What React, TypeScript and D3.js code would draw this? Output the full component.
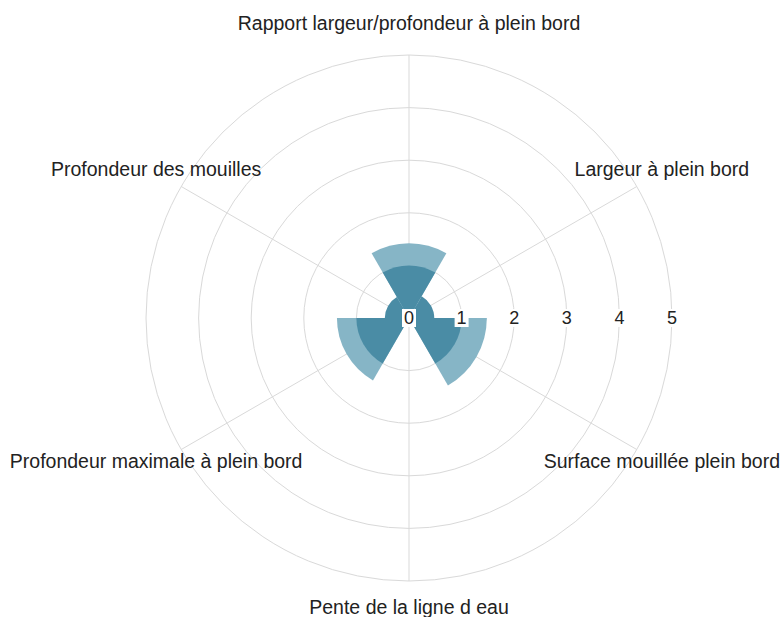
import { useEffect, useRef } from "react";
import * as d3 from "d3";

// axis names, clockwise from the top
const categories = [
    "Rapport largeur/profondeur à plein bord",
    "Largeur à plein bord",
    "Surface mouillée plein bord",
    "Pente de la ligne d eau",
    "Profondeur maximale à plein bord",
    "Profondeur des mouilles",
];

// light (outer) series and dark (inner) series
const outerValues = [1.42, 0.3, 1.48, 0, 1.37, 0.3];
const innerValues = [1.0, 0.48, 1.0, 0, 1.0, 0.46];

const radialTicks = [0, 1, 2, 3, 4, 5];

const W = 782;
const H = 617;

export default function App() {
    const svgRef = useRef<SVGSVGElement>(null);

    useEffect(() => {
        if (!svgRef.current) return;
        const svg = d3.select(svgRef.current);
        svg.selectAll("*").remove();

        const cx = 409;
        const cy = 318;
        const R = 263;
        const font = "'Liberation Sans', Arial, sans-serif";

        const r = d3.scaleLinear().domain([0, 5]).range([0, R]);
        const step = (2 * Math.PI) / categories.length;
        const angle = d3
            .scaleBand<string>()
            .domain(categories)
            .range([-step / 2, 2 * Math.PI - step / 2]);

        const g = svg.append("g").attr("transform", `translate(${cx},${cy})`);

        // grid rings
        g.append("g")
            .selectAll("circle")
            .data(radialTicks.filter((d) => d > 0))
            .enter()
            .append("circle")
            .attr("r", (d) => r(d))
            .attr("fill", "none")
            .attr("stroke", "#d9d9d9")
            .attr("stroke-width", 1);

        // spokes
        g.append("g")
            .selectAll("line")
            .data(categories)
            .enter()
            .append("line")
            .attr("x1", 0)
            .attr("y1", 0)
            .attr("x2", (d) => Math.sin(angle(d)! + step / 2) * R)
            .attr("y2", (d) => -Math.cos(angle(d)! + step / 2) * R)
            .attr("stroke", "#d9d9d9")
            .attr("stroke-width", 1);

        const arc = d3
            .arc<{ cat: string; v: number }>()
            .innerRadius(0)
            .outerRadius((d) => r(d.v))
            .startAngle((d) => angle(d.cat)!)
            .endAngle((d) => angle(d.cat)! + angle.bandwidth());

        g.append("g")
            .selectAll("path")
            .data(categories.map((cat, i) => ({ cat, v: outerValues[i] })))
            .enter()
            .append("path")
            .attr("d", arc)
            .attr("fill", "#86b5c6");

        g.append("g")
            .selectAll("path")
            .data(categories.map((cat, i) => ({ cat, v: innerValues[i] })))
            .enter()
            .append("path")
            .attr("d", arc)
            .attr("fill", "#4a8ca5");

        // radial tick labels with white boxes
        const ticks = g
            .append("g")
            .selectAll("g")
            .data(radialTicks)
            .enter()
            .append("g")
            .attr("transform", (d) => `translate(${r(d)},0)`);

        ticks
            .append("rect")
            .attr("x", -7)
            .attr("y", -9)
            .attr("width", 14)
            .attr("height", 18)
            .attr("fill", "#fff");

        ticks
            .append("text")
            .attr("text-anchor", "middle")
            .attr("dominant-baseline", "central")
            .style("font-family", font)
            .style("font-size", "18px")
            .attr("fill", "#222")
            .text((d) => d);

        // category labels
        g.append("g")
            .selectAll("text")
            .data(categories)
            .enter()
            .append("text")
            .attr("x", (d) => Math.sin(angle(d)! + step / 2) * 292)
            .attr("y", (d) => -Math.cos(angle(d)! + step / 2) * 292 - 3)
            .attr("text-anchor", "middle")
            .attr("dominant-baseline", "central")
            .style("font-family", font)
            .style("font-size", "19.5px")
            .attr("fill", "#222")
            .text((d) => d);
    }, []);

    return (
        <div style={{ position: "absolute", left: 0, top: 0, width: W, height: H, background: "#fff" }}>
            <svg ref={svgRef} width={W} height={H} style={{ display: "block" }}></svg>
        </div>
    );
}
